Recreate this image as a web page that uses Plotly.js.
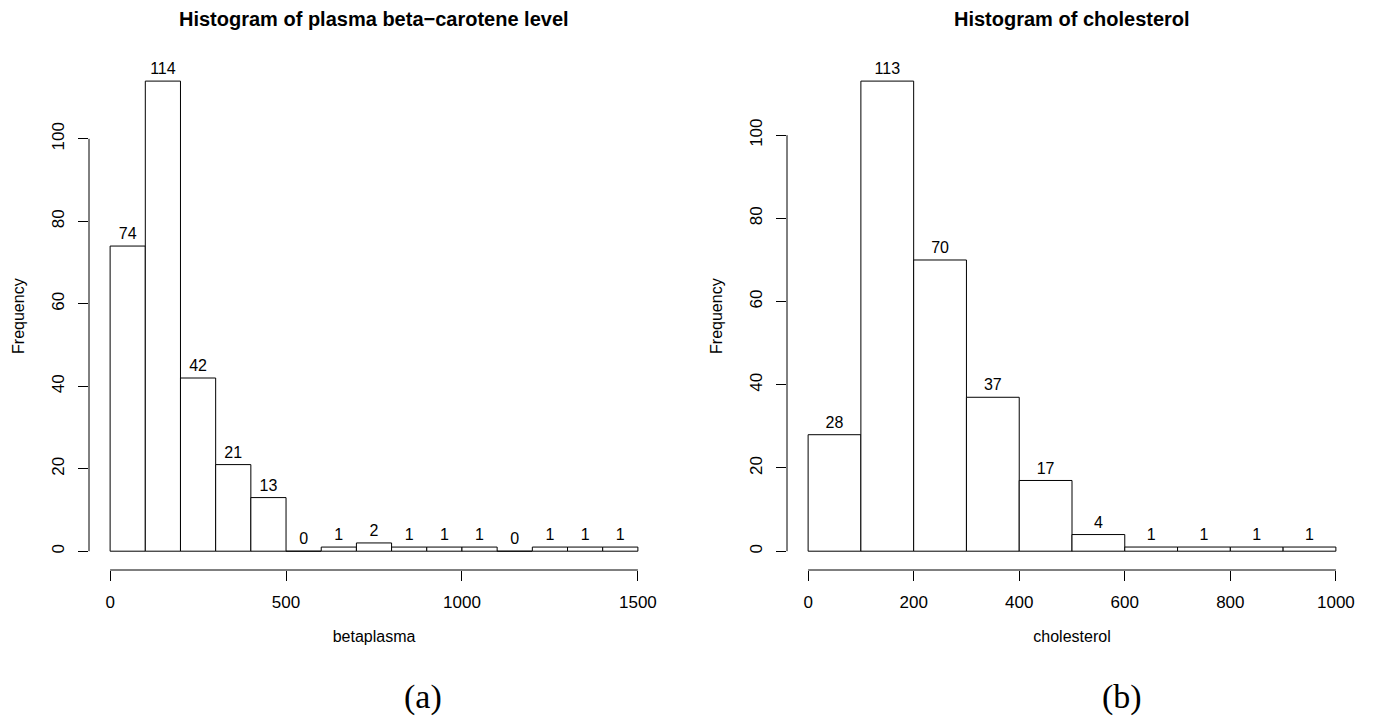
<!DOCTYPE html>
<html>
<head>
<meta charset="utf-8">
<script src="https://cdn.plot.ly/plotly-3.0.1.min.js"></script>
<style>html,body{margin:0;padding:0;background:#fff;}#chart{width:1375px;height:721px;}</style>
</head>
<body>
<div id="chart"></div>
<script>
// ---- data ----
const betaBreaks = [0,100,200,300,400,500,600,700,800,900,1000,1100,1200,1300,1400,1500];
const betaCounts = [74,114,42,21,13,0,1,2,1,1,1,0,1,1,1];
const cholBreaks = [0,100,200,300,400,500,600,700,800,900,1000];
const cholCounts = [28,113,70,37,17,4,1,1,1,1];
const betaXTicks = [0,500,1000,1500];
const cholXTicks = [0,200,400,600,800,1000];
const yTicks = [0,20,40,60,80,100];
const titles = ["Histogram of plasma beta\u2212carotene level", "Histogram of cholesterol"];
const xTitles = ["betaplasma", "cholesterol"];
const captions = ["(a)", "(b)"];

const FONT = "Liberation Sans, Arial, Helvetica, sans-serif";

function mids(br){ const m=[]; for(let i=0;i<br.length-1;i++) m.push((br[i]+br[i+1])/2); return m; }
function widths(br){ const w=[]; for(let i=0;i<br.length-1;i++) w.push(br[i+1]-br[i]); return w; }

function histTraces(br, counts, xa, ya){
  return [
    {type:'bar', x:mids(br), y:counts, width:widths(br), xaxis:xa, yaxis:ya,
     marker:{color:'#ffffff', line:{color:'#000000', width:1}}, hoverinfo:'x+y', showlegend:false},
    {type:'scatter', mode:'markers+text', x:mids(br), y:counts, text:counts.map(String), xaxis:xa, yaxis:ya,
     marker:{size:3, color:'rgba(0,0,0,0)'},
     textposition:'top center', textfont:{family:FONT, size:16, color:'#000'}, cliponaxis:false,
     hoverinfo:'skip', showlegend:false}
  ];
}

function pad(lo, hi){ const d=(hi-lo)*0.04; return [lo-d, hi+d]; }

const data = [
  ...histTraces(betaBreaks, betaCounts, 'x', 'y'),
  ...histTraces(cholBreaks, cholCounts, 'x2', 'y2')
];

const W = 1375, H = 721;
const yDom = [1-570/H, 1-62.3/H];

function xAxis(dom, br, ticks, title, anchor){
  return {domain:dom, range:pad(br[0], br[br.length-1]), anchor:anchor,
    tickmode:'array', tickvals:ticks, ticktext:ticks.map(String),
    ticks:'outside', ticklen:10, tickwidth:1, tickcolor:'#000',
    showline:false, showgrid:false, zeroline:false, fixedrange:true,
    tickfont:{family:FONT, size:17, color:'#000'}, ticklabelstandoff:7,
    title:{text:title, font:{family:FONT, size:16, color:'#000'}, standoff:19}};
}
function yAxis(counts, anchor){
  return {domain:yDom, range:pad(0, Math.max(...counts)), anchor:anchor,
    tickmode:'array', tickvals:yTicks, ticktext:yTicks.map(String), tickangle:-90,
    ticks:'outside', ticklen:10, tickwidth:1, tickcolor:'#000',
    showline:false, showgrid:false, zeroline:false, fixedrange:true,
    tickfont:{family:FONT, size:17, color:'#000'}, ticklabelstandoff:7,
    title:{text:'Frequency', font:{family:FONT, size:16, color:'#000'}, standoff:20}};
}

// axis lines span first to last tick, like R's axis()
function axisLines(xref, yref, xt){
  return [
    {type:'line', xref:xref, yref:yref+' domain', x0:xt[0], x1:xt[xt.length-1], y0:0, y1:0, line:{color:'#000', width:1}},
    {type:'line', xref:xref+' domain', yref:yref, x0:0, x1:0, y0:yTicks[0], y1:yTicks[yTicks.length-1], line:{color:'#000', width:1}}
  ];
}

const layout = {
  width:W, height:H, margin:{l:0,r:0,t:0,b:0},
  paper_bgcolor:'#fff', plot_bgcolor:'#fff', showlegend:false, bargap:0,
  font:{family:FONT, color:'#000'},
  xaxis: xAxis([89/W, 659/W], betaBreaks, betaXTicks, xTitles[0], 'y'),
  yaxis: yAxis(betaCounts, 'x'),
  xaxis2: xAxis([787/W, 1357/W], cholBreaks, cholXTicks, xTitles[1], 'y2'),
  yaxis2: yAxis(cholCounts, 'x2'),
  shapes: [...axisLines('x','y',betaXTicks), ...axisLines('x2','y2',cholXTicks)],
  annotations: [
    {xref:'x domain', yref:'paper', x:0.5, y:1-19/H, xanchor:'center', yanchor:'middle', showarrow:false,
     text:'<b>'+titles[0]+'</b>', font:{family:FONT, size:20, color:'#000'}},
    {xref:'x2 domain', yref:'paper', x:0.5, y:1-19/H, xanchor:'center', yanchor:'middle', showarrow:false,
     text:'<b>'+titles[1]+'</b>', font:{family:FONT, size:20, color:'#000'}},
    {xref:'paper', yref:'paper', x:423/W, y:1-697/H, xanchor:'center', yanchor:'middle', showarrow:false,
     text:captions[0], font:{family:'Liberation Serif, DejaVu Serif, serif', size:34, color:'#000'}},
    {xref:'paper', yref:'paper', x:1122/W, y:1-697/H, xanchor:'center', yanchor:'middle', showarrow:false,
     text:captions[1], font:{family:'Liberation Serif, DejaVu Serif, serif', size:34, color:'#000'}}
  ]
};

Plotly.newPlot('chart', data, layout, {displayModeBar:false, staticPlot:true});
</script>
</body>
</html>
